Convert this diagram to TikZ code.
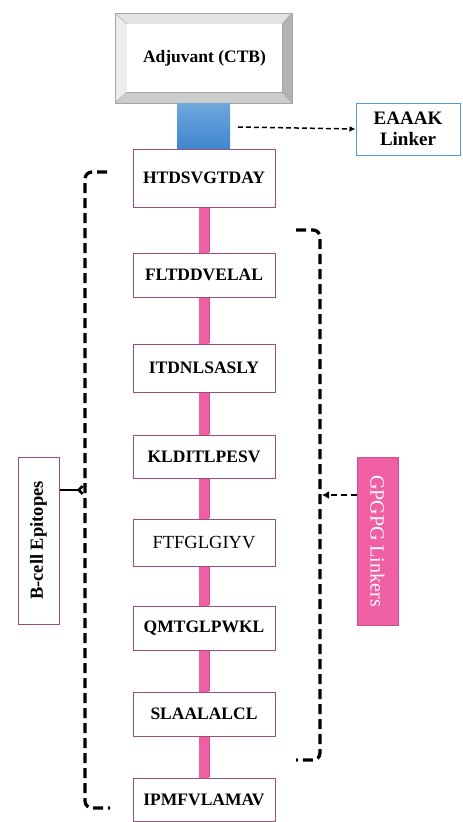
\documentclass[tikz,border=0pt]{standalone}
\usepackage{fontspec}
\setmainfont{Liberation Serif}
\usetikzlibrary{arrows.meta}
\definecolor{boxedge}{HTML}{9A4F78}
\definecolor{pinkbar}{HTML}{EE5FA3}
\definecolor{pinkedge}{HTML}{C9508A}
\definecolor{blueedge}{HTML}{5B9BD5}
\definecolor{bluetop}{HTML}{6FA8DC}
\definecolor{bluebot}{HTML}{3E85CF}
\tikzset{
  epi/.style={draw=boxedge, line width=1pt, fill=white, minimum width=142pt, inner sep=0pt, font=\fontsize{17.5}{19}\selectfont\bfseries},
  link/.style={draw=pinkedge, line width=11pt},
  linkfill/.style={draw=pinkbar, line width=9.5pt},
  brace/.style={draw=black, line width=3.3pt, dash pattern=on 10pt off 5pt, rounded corners=7pt},
}
\begin{document}
\begin{tikzpicture}[x=1pt,y=-1pt]
\useasboundingbox (0,0) rectangle (463,822);
% bevel box
\fill[gray!55] (115,13) rectangle (292,103);
\fill[gray!22] (115,13) -- (292,13) -- (282,24) -- (127,24) -- cycle;
\fill[gray!15] (115,13) -- (127,24) -- (127,92) -- (115,103) -- cycle;
\fill[gray!60] (292,13) -- (292,103) -- (282,92) -- (282,24) -- cycle;
\fill[gray!40] (115,103) -- (292,103) -- (282,92) -- (127,92) -- cycle;
\draw[gray!70, line width=0.6pt] (115,13) rectangle (292,103);
\draw[gray!70, line width=0.4pt] (127,24) rectangle (282,92);
\draw[gray!70, line width=0.4pt] (115,13) -- (127,24) (292,13) -- (282,24) (115,103) -- (127,92) (292,103) -- (282,92);
\node[fill=white, minimum width=155pt, minimum height=68pt, inner sep=0pt, font=\fontsize{17.5}{19}\selectfont\bfseries] (adj) at (204.5,58) {Adjuvant (CTB)};
% blue linker
\shade[top color=bluetop, bottom color=bluebot] (177,103) rectangle (230,149);
\coordinate (bl) at (238,127);
% epitopes
\node[epi, minimum height=58pt] (e1) at (204,178) {HTDSVGTDAY};
\node[epi, minimum height=44pt] (e2) at (204,275) {FLTDDVELAL};
\node[epi, minimum height=48pt] (e3) at (204,368) {ITDNLSASLY};
\node[epi, minimum height=43pt] (e4) at (204,456.5) {KLDITLPESV};
\node[epi, minimum height=47pt, font=\fontsize{18.5}{20}\selectfont] (e5) at (204,542.5) {FTFGLGIYV};
\node[epi, minimum height=44pt] (e6) at (204,628) {QMTGLPWKL};
\node[epi, minimum height=44pt] (e7) at (204,714) {SLAALALCL};
\node[epi, minimum height=43pt] (e8) at (204,799.5) {IPMFVLAMAV};
% pink linkers
\foreach \a/\b in {e1/e2,e2/e3,e3/e4,e4/e5,e5/e6,e6/e7,e7/e8}{
  \draw[link] ([yshift=-0.5pt]\a.south) -- ([yshift=0.5pt]\b.north);
  \draw[linkfill] (\a.south) -- (\b.north);
}
% EAAAK
\node[draw=blueedge, line width=1pt, minimum width=104pt, minimum height=52pt, align=center, inner sep=0pt, font=\fontsize{19}{21}\selectfont\bfseries] (eaaak) at (408,129) {EAAAK\\Linker};
\draw[line width=1.5pt, dash pattern=on 5pt off 3pt, -{Latex[length=6pt,width=6pt]}] (bl) -- (eaaak.west);
% side labels
\node[draw=boxedge, line width=1pt, minimum width=41pt, minimum height=167pt, inner sep=0pt] (bcell) at (38.5,540.5) {};
\node[rotate=90, font=\fontsize{18.5}{20}\selectfont\bfseries] at (bcell.center) {B-cell Epitopes};
\node[draw=pinkedge, fill=pinkbar, line width=1pt, minimum width=41pt, minimum height=168pt, inner sep=0pt] (gpg) at (377.5,541) {};
\node[rotate=-90, text=white, font=\fontsize{20}{22}\selectfont] at (gpg.center) {GPGPG Linkers};
% brackets
\draw[brace] (107,172) -- (85,172) -- (85,808) -- (110,808);
\draw[brace] (296,230) -- (320,230) -- (320,760) -- (296,760);
\coordinate (lb) at (84,490);
\coordinate (rb) at (322,495);
\draw[line width=2.6pt, -{Straight Barb[reversed, length=4pt, width=8pt]}] (bcell.east |- lb) -- (lb);
\draw[line width=2.6pt, dash pattern=on 6pt off 4pt, -{Latex[length=7pt,width=8pt]}] (gpg.west |- rb) -- (rb);
\end{tikzpicture}
\end{document}
